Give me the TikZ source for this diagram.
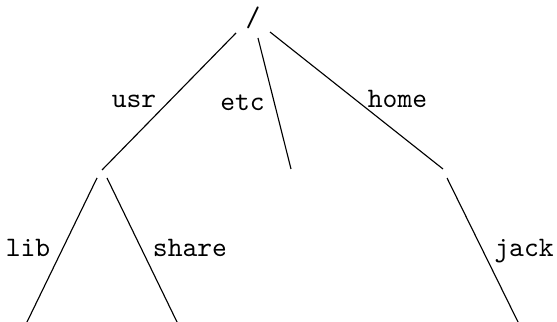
\documentclass[tikz,border=0pt]{standalone}
\begin{document}
\begin{tikzpicture}[x=0.3546pt,y=-0.3546pt,
  lbl/.style={anchor=base,inner sep=0pt,font=\ttfamily},
  edge/.style={draw=black,line width=0.4pt}]
\useasboundingbox (0,0) rectangle (557,322);
\node[lbl] (root) at (253,27) {/};
% endpoints
\coordinate (r1) at (236,33);
\coordinate (r2) at (258,38);
\coordinate (r3) at (270,32);
\coordinate (usrT) at (102,170);
\coordinate (etcT) at (291,169);
\coordinate (homeT) at (443,169);
\coordinate (usrB1) at (97,178);
\coordinate (usrB2) at (107,178);
\coordinate (homeB) at (447,178);
\coordinate (libT) at (27,322);
\coordinate (shareT) at (177,322);
\coordinate (jackT) at (518,322);
\draw[edge] (r1) -- (usrT);
\draw[edge] (r2) -- (etcT);
\draw[edge] (r3) -- (homeT);
\draw[edge] (usrB1) -- (libT);
\draw[edge] (usrB2) -- (shareT);
\draw[edge] (homeB) -- (jackT);
\node[lbl] (lusr) at (134,108) {usr};
\node[lbl] (letc) at (242.5,111) {etc};
\node[lbl] (lhome) at (397.5,108) {home};
\node[lbl] (llib) at (28,257) {lib};
\node[lbl] (lshare) at (190,257) {share};
\node[lbl] (ljack) at (524,257) {jack};
\end{tikzpicture}
\end{document}
